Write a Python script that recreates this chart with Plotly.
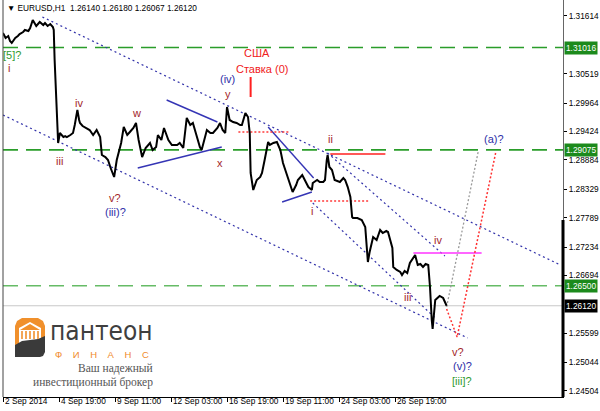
import plotly.graph_objects as go

# ---------------- DATA ----------------
# hourly bar index since 2 Sep 2014 and price
bar_idx = [0, 3, 6, 8, 10, 14, 17, 19, 23, 25, 29, 31, 34, 38, 40, 42, 46, 48, 51, 54, 57, 58, 59, 61, 62, 63,
           65, 69, 71, 73, 77, 80, 82, 85, 87, 88, 91, 95, 99, 103, 107, 111, 113, 117, 120, 123, 127, 130, 133,
           135, 138, 142, 145, 149, 152, 155, 159, 163, 168, 171, 175, 177, 181, 184, 189, 193, 199, 202, 206,
           208, 210, 214, 217, 221, 225, 227, 231, 233, 237, 240, 245, 248, 251, 254, 256, 259, 263, 267, 271,
           273, 277, 280, 282, 283, 286, 288, 290, 294, 296, 299, 303, 305, 309, 313, 317, 320, 325, 328, 331,
           335, 337, 342, 345, 349, 353, 354, 359, 362, 366, 368, 370, 371, 373, 376, 379, 383, 385, 389, 391,
           394, 397, 399, 400, 405, 408, 410, 414, 416, 417, 419, 423, 427, 431, 434, 438, 440, 445, 446, 450,
           454, 456, 459, 462, 465, 469, 471, 474, 477, 480, 483, 486, 488, 490, 491, 494, 497, 499, 503, 506, 507]
price = [1.31291, 1.31197, 1.31234, 1.31140, 1.31102, 1.31197, 1.31234, 1.31272, 1.31310, 1.31348, 1.31329,
         1.31386, 1.31538, 1.31424, 1.31462, 1.31500, 1.31443, 1.31481, 1.31424, 1.31462, 1.31405, 1.31348,
         1.30779, 1.30021, 1.29509, 1.29206, 1.29395, 1.29319, 1.29338, 1.29319, 1.29357, 1.29395, 1.29547,
         1.29831, 1.29642, 1.29585, 1.29528, 1.29490, 1.29452, 1.29357, 1.29452, 1.29319, 1.28978, 1.28940,
         1.28883, 1.28732, 1.28561, 1.28883, 1.29073, 1.29206, 1.29509, 1.29357, 1.29414, 1.29490, 1.29585,
         1.29263, 1.28940, 1.29111, 1.29206, 1.29073, 1.29130, 1.29357, 1.29263, 1.29490, 1.29263, 1.29168,
         1.29168, 1.29206, 1.29111, 1.29452, 1.29680, 1.29547, 1.29585, 1.29357, 1.29130, 1.29073, 1.29301,
         1.29452, 1.29395, 1.29395, 1.29490, 1.29585, 1.29452, 1.29395, 1.29888, 1.29642, 1.29604, 1.29585,
         1.29547, 1.29547, 1.29775, 1.29699, 1.29395, 1.28637, 1.28315, 1.28409, 1.28504, 1.28561, 1.28637,
         1.28883, 1.29225, 1.29168, 1.29206, 1.29225, 1.29073, 1.28827, 1.28561, 1.28390, 1.28277, 1.28409,
         1.28504, 1.28599, 1.28504, 1.28371, 1.28315, 1.28447, 1.28504, 1.28466, 1.28466, 1.28504, 1.28883,
         1.28978, 1.28751, 1.28694, 1.28504, 1.28485, 1.28466, 1.28542, 1.28504, 1.28371, 1.28182, 1.27803,
         1.27784, 1.27784, 1.27765, 1.27746, 1.27613, 1.27234, 1.26949, 1.27139, 1.27423, 1.27367, 1.27556,
         1.27499, 1.27537, 1.27518, 1.27215, 1.26855, 1.26798, 1.26760, 1.26703, 1.26779, 1.26741, 1.26931,
         1.27044, 1.27082, 1.26893, 1.26912, 1.26855, 1.26912, 1.26893, 1.26475, 1.25850, 1.25679, 1.26229,
         1.26286, 1.26305, 1.26267, 1.26172, 1.26120]

x_tick_bars = [0, 64, 128, 192, 256, 320, 384, 448]
x_tick_labels = ["2 Sep 2014", "4 Sep 19:00", "9 Sep 11:00", "12 Sep 03:00", "16 Sep 19:00",
                 "19 Sep 11:00", "24 Sep 03:00", "26 Sep 19:00"]
y_tick_vals = [1.31614, 1.30519, 1.29964, 1.29424, 1.28884, 1.28329, 1.27789,
               1.27234, 1.26694, 1.25599, 1.25044, 1.24504]

level_prices = [1.31016, 1.29075, 1.26500]
last_price = 1.26120
header_text = "EURUSD,H1  1.26140 1.26180 1.26067 1.26120"

# trend lines: ([bars], [prices])
channel_upper = ([45, 637], [1.31595, 1.26893])
channel_lower = ([0, 531], [1.29737, 1.25509])
fan_from_ii = ([371, 505], [1.29016, 1.27063])
fan_from_i = ([354, 494], [1.28068, 1.25888])
tri_upper = ([187, 245], [1.30021, 1.29604])
tri_lower = ([154, 250], [1.28732, 1.29130])
wedge_upper = ([303, 355], [1.29509, 1.28542])
wedge_lower = ([319, 353], [1.28087, 1.28277])
red_dot_1 = ([269, 328], [1.29414, 1.29414])
red_dot_2 = ([351, 419], [1.28106, 1.28106])
red_solid_ii = ([374, 437], [1.28997, 1.28997])
news_bar = ([283, 283], [1.30457, 1.30078])
magenta_iv = ([469, 547], [1.27120, 1.27120])
grey_projection = ([507, 543], [1.26097, 1.29035])
red_projection = ([507, 519, 563], [1.26059, 1.25527, 1.29016])

# wave labels: text, bar, price, colour key
wave_labels = [
    ("[5]?", 10, 1.30874, "g"), ("i", 7, 1.30628, "r"), ("iv", 87, 1.29964, "r"),
    ("iii", 64, 1.28864, "r"), ("w", 153, 1.29775, "r"), ("v?", 128, 1.28163, "r"),
    ("(iii)?", 129, 1.27897, "b"), ("x", 248, 1.28826, "r"), ("y", 257, 1.30135, "r"),
    ("(iv)", 257, 1.30419, "b"), ("ii", 374, 1.29282, "r"), ("i", 353, 1.27916, "r"),
    ("iv", 497, 1.27367, "r"), ("iii", 462, 1.26286, "r"), ("v?", 520, 1.25243, "r"),
    ("(v)?", 525, 1.24978, "b"), ("[iii]?", 525, 1.24693, "g"), ("(a)?", 561, 1.29282, "b"),
    ("США", 290, 1.30912, "news"), ("Ставка (0)", 296, 1.30609, "news"),
]

# ---------------- FIGURE ----------------
W, H = 600, 411
L, R, T, B = 3, 37, 0, 14
PW, PH = W - L - R, H - T - B


def PX(x):
    return (x - L) / PW


def PY(y):
    return 1 - (y - T) / PH


FONT = "Liberation Sans, Arial, sans-serif"
NAVY = "#2e2ea8"
DARKRED = "#a3262a"
label_colors = {"g": "#2f9a2f", "r": DARKRED, "b": NAVY, "news": "#f02020"}

fig = go.Figure()


def add_line(xy, color, width=1.0, dash="solid"):
    fig.add_trace(go.Scatter(x=xy[0], y=xy[1], mode="lines",
                             line=dict(color=color, width=width, dash=dash),
                             hoverinfo="skip", showlegend=False))


# horizontal levels
for i, lp in enumerate(level_prices):
    col = "#2a9d2a" if i < 2 else "#66bb66"
    add_line(([0, 640], [lp, lp]), col, 1.6, "15px,8px")
add_line(([0, 640], [last_price, last_price]), "#c8c8c8", 1.0)

# channels & fans
for ln in (channel_upper, channel_lower, fan_from_ii, fan_from_i):
    add_line(ln, "#3333aa", 1.2, "2px,3px")
for ln in (tri_upper, tri_lower, wedge_upper, wedge_lower):
    add_line(ln, "#3535b5", 1.4)
add_line(red_dot_1, "#ff3a3a", 1.5, "2px,2px")
add_line(red_dot_2, "#ff3a3a", 1.5, "2px,2px")
add_line(red_solid_ii, "#ff2020", 1.6)
add_line(news_bar, "#ff2020", 2.0)
add_line(magenta_iv, "#ff33ff", 1.6)
add_line(grey_projection, "#9a9a9a", 1.3, "2px,2px")
add_line(red_projection, "#ff3030", 1.5, "2px,2px")

# price
fig.add_trace(go.Scatter(x=bar_idx, y=price, mode="lines",
                         line=dict(color="#000000", width=2.0), hoverinfo="skip",
                         showlegend=False))

annotations = []
for text, bx, py, ck in wave_labels:
    annotations.append(dict(x=bx, y=py, xref="x", yref="y", text=text, showarrow=False,
                            font=dict(family=FONT, size=11, color=label_colors[ck]),
                            xanchor="center", yanchor="middle"))

# x-axis labels (MT4 style: written to the right of each tick)
for tb, tl in zip(x_tick_bars, x_tick_labels):
    annotations.append(dict(x=tb, y=PY(401), xref="x", yref="paper", text=tl, showarrow=False,
                            xanchor="left", yanchor="middle", xshift=0,
                            font=dict(family=FONT, size=8.3, color="#000000")))

# header
annotations.append(dict(x=PX(5), y=PY(8), xref="paper", yref="paper", showarrow=False,
                        text="▼ " + header_text, xanchor="left", yanchor="middle",
                        font=dict(family=FONT, size=8.3, color="#000000")))

# price boxes on the right axis
for lp, bg in [(level_prices[0], "#1c8a1c"), (level_prices[1], "#1c8a1c"),
               (level_prices[2], "#1c8a1c"), (last_price, "#000000")]:
    annotations.append(dict(x=1, y=lp, xref="paper", yref="y", xanchor="left", yanchor="middle",
                            xshift=1, text=f"{lp:.5f}", showarrow=False, bgcolor=bg,
                            borderpad=1, font=dict(family=FONT, size=8.3, color="#ffffff")))

# logo texts
annotations += [
    dict(x=PX(48), y=PY(331), xref="paper", yref="paper", text="пантеон", showarrow=False,
         xanchor="left", yanchor="middle",
         font=dict(family="DejaVu Sans Condensed, Liberation Sans, sans-serif", size=26,
                   color="#3f3f3f")),
    dict(x=PX(102), y=PY(354), xref="paper", yref="paper",
         text="Ф\u00a0\u00a0\u00a0\u00a0И\u00a0\u00a0\u00a0\u00a0Н\u00a0\u00a0\u00a0\u00a0А\u00a0\u00a0\u00a0\u00a0Н\u00a0\u00a0\u00a0\u00a0С",
         showarrow=False, xanchor="center", yanchor="middle",
         font=dict(family=FONT, size=9.5, color="#f08a2c")),
    dict(x=PX(155), y=PY(368), xref="paper", yref="paper", text="Ваш надежный", showarrow=False,
         xanchor="right", yanchor="middle",
         font=dict(family="Liberation Serif, serif", size=11.5, color="#555555")),
    dict(x=PX(155), y=PY(382), xref="paper", yref="paper", text="инвестиционный брокер",
         showarrow=False, xanchor="right", yanchor="middle",
         font=dict(family="Liberation Serif, serif", size=11.5, color="#555555")),
]


def ppath(pts, close=True):
    s = "M " + " L ".join(f"{PX(x):.5f},{PY(y):.5f}" for x, y in pts)
    return s + (" Z" if close else "")


shapes = [
    dict(type="line", xref="paper", yref="paper", x0=0, x1=0, y0=0, y1=1,
         line=dict(color="#444444", width=1)),
    dict(type="line", xref="paper", yref="paper", x0=1, x1=1, y0=0, y1=PY(220),
         line=dict(color="#000000", width=3)),
    dict(type="path", xref="paper", yref="paper", layer="above",
         path=ppath([(15, 350), (15, 326), (17, 321), (22, 318), (38, 318), (43, 321), (45, 326), (45, 350)]),
         fillcolor="#f0902c", line=dict(width=0)),
    dict(type="path", xref="paper", yref="paper", layer="above",
         path=ppath([(19, 343), (19, 328), (30, 322), (41, 328), (41, 343)]),
         fillcolor="#ffffff", line=dict(width=0)),
    dict(type="path", xref="paper", yref="paper", layer="above",
         path=ppath([(15, 357), (15, 345), (22, 341), (30, 340), (38, 339), (45, 336), (45, 352),
                     (43, 356), (40, 357)]),
         fillcolor="#3a3a3a", line=dict(width=0)),
    dict(type="path", xref="paper", yref="paper", layer="above",
         path=ppath([(20, 330), (30, 324), (40, 330)]),
         fillcolor="#f0902c", line=dict(width=0)),
]
for cx in (22, 26, 30, 34, 38):
    shapes.append(dict(type="rect", xref="paper", yref="paper", layer="above",
                       x0=PX(cx - 0.8), x1=PX(cx + 0.8), y0=PY(339), y1=PY(331),
                       fillcolor="#f0902c", line=dict(width=0)))

fig.update_layout(
    width=W, height=H, margin=dict(l=L, r=R, t=T, b=B),
    plot_bgcolor="#ffffff", paper_bgcolor="#ffffff", showlegend=False,
    annotations=annotations, shapes=shapes, template="none",
    xaxis=dict(range=[0, 640], showgrid=False, zeroline=False, tickvals=x_tick_bars,
               showticklabels=False, ticks="outside", ticklen=4, tickcolor="#000000",
               showline=True, linecolor="#000000", linewidth=1, automargin=False,
               fixedrange=True),
    yaxis=dict(range=[1.24390, 1.31917], side="right", showgrid=False, zeroline=False,
               tickvals=y_tick_vals, ticktext=[f"{v:.5f}" for v in y_tick_vals],
               ticks="outside", ticklen=3, tickcolor="#000000", showline=True,
               linecolor="#666666", linewidth=1,
               tickfont=dict(family=FONT, size=8.3, color="#000000"), automargin=False,
               fixedrange=True),
)

fig.write_html("out.html", config={"responsive": False, "displayModeBar": False},
               post_script="document.body.style.margin='0';document.body.style.padding='0';")
